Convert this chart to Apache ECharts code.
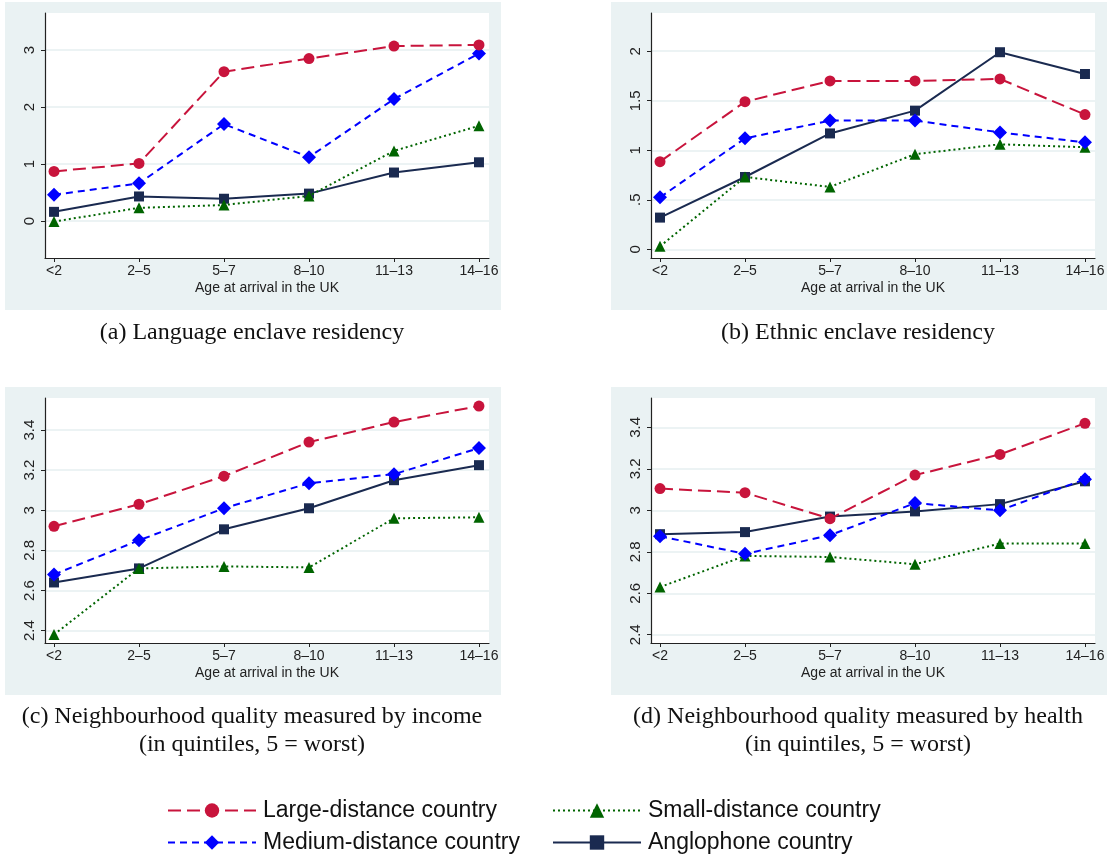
<!DOCTYPE html>
<html>
<head>
  <meta charset="utf-8">
  <script src="https://cdn.jsdelivr.net/npm/echarts@6/dist/echarts.min.js"></script>
</head>
<body style="margin:0;background:#fff;">
    <div id="main" style="width:1111px;height:857px;"></div>

<script type="text/javascript">
// age groups on the x axis
var ages = ['<2', '2–5', '5–7', '8–10', '11–13', '14–16'];
var names = ['Large-distance country', 'Medium-distance country', 'Small-distance country', 'Anglophone country'];

// (a) language enclave
var langLarge  = [0.87, 1.01, 2.62, 2.85, 3.07, 3.09];
var langMedium = [0.46, 0.66, 1.70, 1.12, 2.14, 2.94];
var langSmall  = [-0.01, 0.23, 0.28, 0.44, 1.23, 1.67];
var langAnglo  = [0.16, 0.43, 0.39, 0.48, 0.85, 1.03];
// (b) ethnic enclave
var ethLarge  = [0.885, 1.49, 1.70, 1.70, 1.72, 1.36];
var ethMedium = [0.525, 1.12, 1.30, 1.30, 1.18, 1.08];
var ethSmall  = [0.03, 0.73, 0.63, 0.96, 1.06, 1.03];
var ethAnglo  = [0.32, 0.73, 1.17, 1.40, 1.99, 1.77];
// (c) income quintile
var incLarge  = [2.92, 3.03, 3.17, 3.34, 3.44, 3.52];
var incMedium = [2.68, 2.85, 3.01, 3.135, 3.18, 3.31];
var incSmall  = [2.38, 2.71, 2.72, 2.715, 2.96, 2.965];
var incAnglo  = [2.64, 2.71, 2.905, 3.01, 3.15, 3.225];
// (d) health quintile
var hltLarge  = [3.105, 3.085, 2.96, 3.17, 3.27, 3.42];
var hltMedium = [2.875, 2.79, 2.88, 3.035, 3.0, 3.15];
var hltSmall  = [2.63, 2.78, 2.775, 2.74, 2.84, 2.84];
var hltAnglo  = [2.885, 2.895, 2.97, 2.995, 3.03, 3.14];

// y tick labels per panel
var ticksA = [0, 1, 2, 3];
var ticksB = [0, 0.5, 1, 1.5, 2];
var ticksC = [2.4, 2.6, 2.8, 3, 3.2, 3.4];
var ticksD = [2.4, 2.6, 2.8, 3, 3.2, 3.4];

var captions = [
  '(a) Language enclave residency',
  '(b) Ethnic enclave residency',
  '(c) Neighbourhood quality measured by income\n(in quintiles, 5 = worst)',
  '(d) Neighbourhood quality measured by health\n(in quintiles, 5 = worst)'
];

var panels = [
  {data: [langLarge, langMedium, langSmall, langAnglo], ticks: ticksA, min: -0.65, max: 3.65, left: 45, top: 13},
  {data: [ethLarge, ethMedium, ethSmall, ethAnglo], ticks: ticksB, min: -0.088, max: 2.386, left: 651, top: 13},
  {data: [incLarge, incMedium, incSmall, incAnglo], ticks: ticksC, min: 2.338, max: 3.56, left: 45, top: 398},
  {data: [hltLarge, hltMedium, hltSmall, hltAnglo], ticks: ticksD, min: 2.36, max: 3.542, left: 651, top: 398}
];

var styles = [
  {color: '#c8143c', dash: [13, 6], symbol: 'circle', size: 11},
  {color: '#0000ff', dash: [7, 5], symbol: 'diamond', size: 14},
  {color: '#006400', dash: [2, 3], symbol: 'triangle', size: 11},
  {color: '#1a2a50', dash: 'solid', symbol: 'rect', size: 10}
];

var xIdx = [0, 1, 2, 3, 4, 5];
var axisColor = '#222';
var gridColor = '#e6eff1';

function yFmt(v) {
  var s = String(Math.round(v * 10) / 10);
  return s.replace(/^0\./, '.');
}

var grids = [], xAxes = [], yAxes = [], series = [];
panels.forEach(function (p, i) {
  grids.push({left: p.left, top: p.top, width: 444, height: 245,
    show: true, backgroundColor: '#fff', borderWidth: 0});
  xAxes.push({
    type: 'value', gridIndex: i, min: -0.106, max: 5.118,
    axisLine: {onZero: false, lineStyle: {color: axisColor, width: 1.2}},
    axisTick: {customValues: xIdx, length: 4, lineStyle: {color: axisColor}},
    axisLabel: {customValues: xIdx, margin: 6, color: '#222', fontSize: 14,
      fontFamily: 'Liberation Sans', formatter: function (v) { return ages[v]; }},
    splitLine: {show: false},
    name: 'Age at arrival in the UK', nameLocation: 'middle', nameGap: 23,
    nameTextStyle: {color: '#222', fontSize: 14, fontFamily: 'Liberation Sans'}
  });
  yAxes.push({
    type: 'value', gridIndex: i, min: p.min, max: p.max,
    axisLine: {show: true, onZero: false, lineStyle: {color: axisColor, width: 1.2}},
    axisTick: {show: true, inside: false, customValues: p.ticks, length: 4, lineStyle: {color: axisColor}},
    axisLabel: {customValues: p.ticks, rotate: 90, margin: 8, color: '#222', fontSize: 15,
      fontFamily: 'Liberation Sans', formatter: yFmt},
    splitLine: {show: true, lineStyle: {color: gridColor, width: 1.5}}
  });
  p.data.forEach(function (vals, k) {
    var st = styles[k];
    series.push({
      name: names[k], type: 'line', xAxisIndex: i, yAxisIndex: i,
      data: vals.map(function (v, j) { return [j, v]; }),
      symbol: st.symbol, symbolSize: st.size,
      itemStyle: {color: st.color},
      lineStyle: {color: st.color, width: 2, type: st.dash},
      z: 10 - k
    });
  });
});

var bgRects = [
  {x: 5, y: 2}, {x: 611, y: 2}, {x: 5, y: 387}, {x: 611, y: 387}
].map(function (r) {
  return {type: 'rect', left: r.x, top: r.y, z: -10, silent: true,
    shape: {width: 496, height: 308}, style: {fill: '#eaf2f3'}};
});
var capTexts = captions.map(function (c, i) {
  return {type: 'text', x: i % 2 === 0 ? 252 : 858, y: i < 2 ? 319 : 703, z: 5,
    style: {text: c, textAlign: 'center', fill: '#111', fontSize: 24,
      fontFamily: 'Liberation Serif', lineHeight: 28}};
});

// one legend per entry, laid out as two columns
var legendPos = [[162, 794], [162, 826], [547, 794], [547, 826]];
var legends = names.map(function (n, k) {
  return {data: [n], left: legendPos[k][0], top: legendPos[k][1], itemWidth: 88, itemHeight: 18,
    textStyle: {fontSize: 23, color: '#111', fontFamily: 'Liberation Sans', padding: [0, 0, 0, 2]}};
});

var myChart = echarts.init(document.getElementById('main'));
myChart.setOption({
  animation: false,
  backgroundColor: '#fff',
  grid: grids,
  xAxis: xAxes,
  yAxis: yAxes,
  series: series,
  graphic: bgRects.concat(capTexts),
  legend: legends
});
</script>
</body>
</html>
